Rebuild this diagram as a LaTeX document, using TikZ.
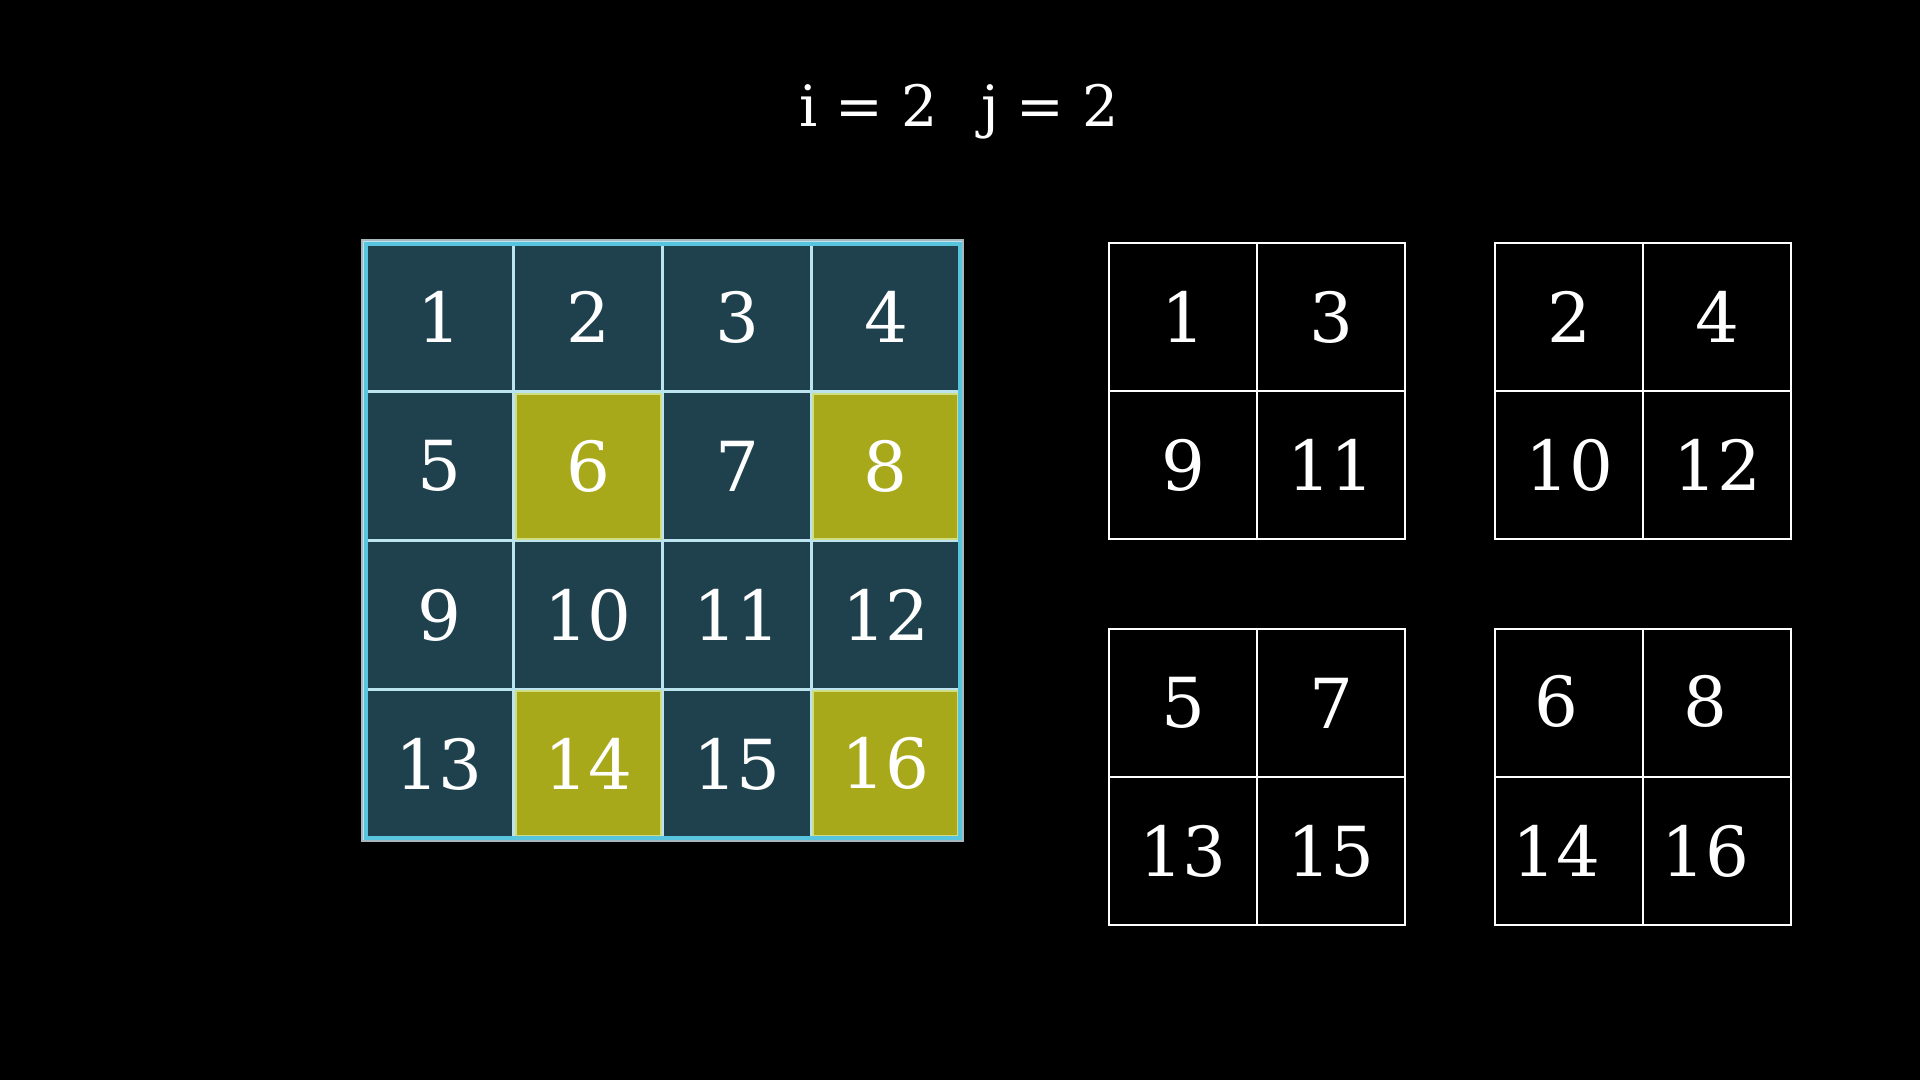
\documentclass[tikz,border=0pt]{standalone}
\usepackage{fontspec}
\setmainfont{DejaVu Serif}
\definecolor{teal1}{HTML}{1E414D}
\definecolor{olive1}{HTML}{A8A91A}
\definecolor{lblue}{HTML}{BCE4EE}
\definecolor{lyel}{HTML}{D0DD80}
\definecolor{mblue}{HTML}{58C4DD}
\definecolor{gedge}{HTML}{A6B8BE}
\tikzset{
  numfont/.style={font=\fontsize{69}{80}\selectfont, text=white},
  tcell/.style={numfont, draw=lblue, line width=2.4pt, fill=teal1, minimum size=149pt, inner sep=0pt},
  ycell/.style={numfont, draw=lyel, line width=1.6pt, fill=olive1, minimum size=145pt, inner sep=0pt},
  wcell/.style={numfont, draw=white, line width=2.4pt, minimum size=148pt, inner sep=0pt},
  numlab/.style={numfont, inner sep=0pt},
  ttl/.style={font=\fontsize{57}{68}\selectfont, text=white, inner sep=0pt, anchor=base west}
}
\begin{document}
\begin{tikzpicture}[x=1pt,y=-1pt]
\fill[black] (0,0) rectangle (1920,1080);
\useasboundingbox (0,0) rectangle (1920,1080);
% title
\node[ttl] (ti) at (799,126) {i = 2};
\node[ttl] (tj) at (981,126) {j = 2};
% main grid
\node[tcell] (m1) at (439,317) {1};
\node[tcell] (m2) at (588,317) {2};
\node[tcell] (m3) at (737,317) {3};
\node[tcell] (m4) at (886,317) {4};
\node[tcell] (m5) at (439,466) {5};
\node[tcell] (m7) at (737,466) {7};
\node[tcell] (m9) at (439,615) {9};
\node[tcell] (m10) at (588,615) {10};
\node[tcell] (m11) at (737,615) {11};
\node[tcell] (m12) at (886,615) {12};
\node[tcell] (m13) at (439,764) {13};
\node[tcell] (m15) at (737,764) {15};
\node[ycell] (m6) at (588.5,466.5) {6};
\node[ycell] (m8) at (885.5,466.5) {8};
\node[ycell] (m14) at (588.5,763.5) {14};
\node[ycell] (m16) at (885.5,763.5) {16};
% outer border
\node[draw=gedge, line width=1.2pt, minimum width=601pt, minimum height=601pt, inner sep=0pt] (mgray) at (662.5,540.5) {};
\node[draw=mblue, line width=4pt, minimum width=594pt, minimum height=594pt, inner sep=0pt] (mborder) at (662.5,540.5) {};
% grid A
\node[wcell] (a1) at (1183,317) {1};
\node[wcell] (a3) at (1331,317) {3};
\node[wcell] (a9) at (1183,465) {9};
\node[wcell] (a11) at (1331,465) {11};
% grid B
\node[wcell] (b2) at (1569,317) {2};
\node[wcell] (b4) at (1717,317) {4};
\node[wcell] (b10) at (1569,465) {10};
\node[wcell] (b12) at (1717,465) {12};
% grid C
\node[wcell] (c5) at (1183,703) {5};
\node[wcell] (c7) at (1331,703) {7};
\node[wcell] (c13) at (1183,851) {13};
\node[wcell] (c15) at (1331,851) {15};
% grid D
\node[wcell] (d6) at (1569,703) {};
\node[wcell] (d8) at (1717,703) {};
\node[wcell] (d14) at (1569,851) {};
\node[wcell] (d16) at (1717,851) {};
\node[numlab] (d6t) at ([xshift=-13pt,yshift=2pt]d6.center) {6};
\node[numlab] (d8t) at ([xshift=-12pt,yshift=2pt]d8.center) {8};
\node[numlab] (d14t) at ([xshift=-13pt]d14.center) {14};
\node[numlab] (d16t) at ([xshift=-12pt]d16.center) {16};
\end{tikzpicture}
\end{document}
